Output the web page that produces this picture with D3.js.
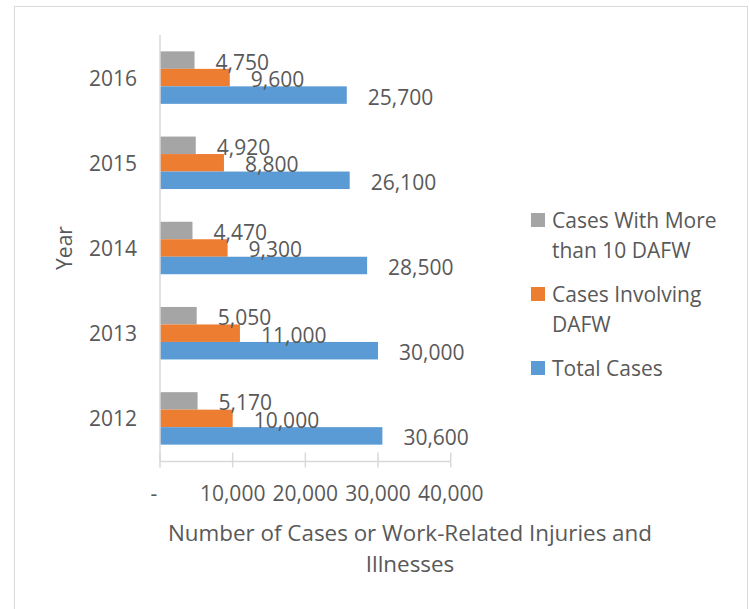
<!DOCTYPE html>
<html>
<head>
<meta charset="utf-8">
<script src="https://cdn.jsdelivr.net/npm/d3@7"></script>
<style>
  body { margin: 0; background: #fff; }
  text { font-family: "Open Sans", "Liberation Sans", sans-serif; fill: #595959; }
</style>
</head>
<body>
<div id="chart"></div>
<script>
// chart data
const years = ["2016", "2015", "2014", "2013", "2012"];
const seriesNames = ["Cases With More than 10 DAFW", "Cases Involving DAFW", "Total Cases"];
const moreThan10 = [4750, 4920, 4470, 5050, 5170];
const involvingDAFW = [9600, 8800, 9300, 11000, 10000];
const totalCases = [25700, 26100, 28500, 30000, 30600];
const xTicks = [0, 10000, 20000, 30000, 40000];
const legendLines = [["Cases With More", "than 10 DAFW"], ["Cases Involving", "DAFW"], ["Total Cases"]];

const colors = ["#A5A5A5", "#ED7D31", "#5B9BD5"];
const width = 749, height = 609;
const fontSize = 21;

const svg = d3.select("#chart").append("svg")
    .attr("width", width)
    .attr("height", height);

// outer border
svg.append("rect")
    .attr("x", 14.5).attr("y", 6.5)
    .attr("width", 733).attr("height", 620)
    .attr("fill", "none").attr("stroke", "#D9D9D9");

const x = d3.scaleLinear().domain([0, 40000]).range([160, 450.7]);
const y = d3.scaleBand().domain(years).range([35, 461])
    .paddingInner(0.384).paddingOuter(0.192);
const ySub = d3.scaleBand().domain(seriesNames).range([0, y.bandwidth()]);

const rows = years.map((yr, i) => ({
  year: yr,
  values: [moreThan10[i], involvingDAFW[i], totalCases[i]]
}));

// bars
const groups = svg.selectAll(".grp").data(rows).enter().append("g")
    .attr("class", "grp")
    .attr("transform", d => `translate(0,${y(d.year)})`);

groups.selectAll("rect").data(d => d.values.map((v, k) => ({ v, k })))
  .enter().append("rect")
    .attr("x", x(0))
    .attr("y", d => ySub(seriesNames[d.k]))
    .attr("width", d => x(d.v) - x(0))
    .attr("height", ySub.bandwidth())
    .attr("fill", d => colors[d.k]);

groups.selectAll(".lbl").data(d => d.values.map((v, k) => ({ v, k })))
  .enter().append("text")
    .attr("class", "lbl")
    .attr("x", d => x(d.v) + 21)
    .attr("y", d => ySub(seriesNames[d.k]) + ySub.bandwidth() / 2 + 1.5)
    .attr("dominant-baseline", "central")
    .attr("font-size", fontSize)
    .text(d => d3.format(",")(d.v));

// x axis
const xAxis = svg.append("g").attr("transform", "translate(0,461.5)");
xAxis.append("line")
    .attr("x1", x(0)).attr("x2", x(40000))
    .attr("stroke", "#D9D9D9").attr("stroke-width", 1.5);
xAxis.selectAll(".tick").data(xTicks).enter().append("line")
    .attr("x1", d => x(d)).attr("x2", d => x(d))
    .attr("y1", -9).attr("y2", 6)
    .attr("stroke", "#D9D9D9").attr("stroke-width", 1.5);
xAxis.selectAll(".tl").data(xTicks).enter().append("text")
    .attr("x", d => d === 0 ? x(d) - 6 : x(d))
    .attr("y", 31)
    .attr("text-anchor", "middle")
    .attr("dominant-baseline", "central")
    .attr("font-size", fontSize)
    .text(d => d === 0 ? "-" : d3.format(",")(d));

// y axis
svg.append("line")
    .attr("x1", x(0)).attr("x2", x(0))
    .attr("y1", 35).attr("y2", 461.5)
    .attr("stroke", "#D9D9D9").attr("stroke-width", 1.5);
svg.selectAll(".yl").data(years).enter().append("text")
    .attr("x", 137)
    .attr("y", d => y(d) + y.bandwidth() / 2)
    .attr("text-anchor", "end")
    .attr("dominant-baseline", "central")
    .attr("font-size", fontSize)
    .text(d => d);

// axis titles
svg.append("text")
    .attr("transform", "translate(64,248) rotate(-90)")
    .attr("text-anchor", "middle")
    .attr("dominant-baseline", "central")
    .attr("font-size", fontSize)
    .text("Year");

const xTitle = svg.append("text")
    .attr("text-anchor", "middle")
    .attr("font-size", 22.4);
xTitle.append("tspan").attr("x", 410).attr("y", 532).attr("dominant-baseline", "central")
    .text("Number of Cases or Work-Related Injuries and");
xTitle.append("tspan").attr("x", 410).attr("y", 563).attr("dominant-baseline", "central")
    .text("Illnesses");

// legend
const legendTop = [213, 287, 361];
const legend = svg.selectAll(".leg").data(seriesNames).enter().append("g")
    .attr("transform", (d, i) => `translate(531,${legendTop[i]})`);
legend.append("rect")
    .attr("width", 14).attr("height", 14)
    .attr("fill", (d, i) => colors[i]);
legend.each(function(d, i) {
  const t = d3.select(this).append("text")
      .attr("font-size", fontSize);
  legendLines[i].forEach((ln, j) => {
    t.append("tspan")
        .attr("x", 21)
        .attr("y", 7 + j * 30)
        .attr("dominant-baseline", "central")
        .text(ln);
  });
});
</script>
</body>
</html>
